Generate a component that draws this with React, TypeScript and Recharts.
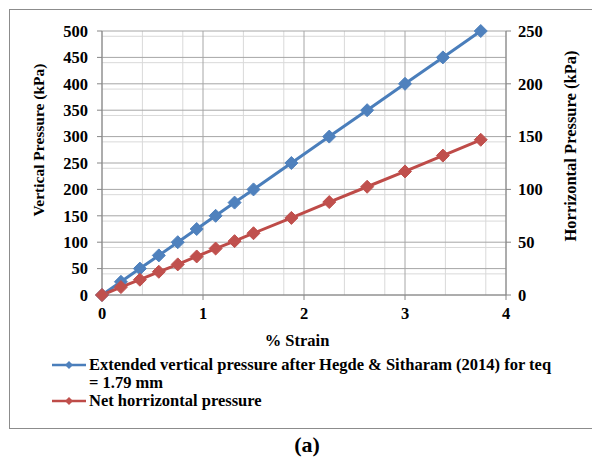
import React from "react";
import { CartesianGrid, Line, LineChart, XAxis, YAxis } from "recharts";

// % strain for each reading
const strain = [0, 0.1875, 0.375, 0.5625, 0.75, 0.9375, 1.125, 1.3125, 1.5, 1.875, 2.25, 2.625, 3, 3.375, 3.75];
// left axis, kPa
const verticalPressure = [0, 25, 50, 75, 100, 125, 150, 175, 200, 250, 300, 350, 400, 450, 500];
// right axis, kPa
const horizontalPressure = [0, 7.5, 14.5, 22, 29, 36.5, 44, 51, 58.5, 73, 88, 102.5, 117, 132, 147];

const xTicks = [0, 1, 2, 3, 4];
const leftTicks = [0, 50, 100, 150, 200, 250, 300, 350, 400, 450, 500];
const rightTicks = [0, 50, 100, 150, 200, 250];
const xMinor = [0.2, 0.4, 0.6, 0.8, 1.2, 1.4, 1.6, 1.8, 2.2, 2.4, 2.6, 2.8, 3.2, 3.4, 3.6, 3.8];
const yMinor = [
  10, 20, 30, 40, 60, 70, 80, 90, 110, 120, 130, 140, 160, 170, 180, 190, 210, 220, 230, 240,
  260, 270, 280, 290, 310, 320, 330, 340, 360, 370, 380, 390, 410, 420, 430, 440, 460, 470, 480, 490,
];

const data = strain.map((s, i) => ({
  strain: s,
  vertical: verticalPressure[i],
  horizontal: horizontalPressure[i],
}));

const FONT = '"Liberation Serif", "Times New Roman", serif';
const BLUE = "#4A7EBB";
const BLUE_MK = "#4F81BD";
const RED = "#BE4B48";
const RED_MK = "#C0504D";
const AXIS = "#868686";

const tickStyle = { fontFamily: FONT, fontSize: 16.5, fontWeight: "bold", fill: "#000" };

function diamond(color: string, r: number) {
  return (props: any) => {
    const { cx, cy, index } = props;
    if (cx == null || cy == null) return <g key={`n-${index}`} />;
    return (
      <path
        key={`d-${index}`}
        d={`M${cx},${cy - r}L${cx + r},${cy}L${cx},${cy + r}L${cx - r},${cy}Z`}
        fill={color}
        stroke={color}
        strokeWidth={1}
      />
    );
  };
}

function LegendMark({ line, mark }: { line: string; mark: string }) {
  return (
    <svg width={35} height={12} style={{ display: "inline-block", verticalAlign: "-1px", marginRight: 2 }}>
      <line x1={0} y1={6} x2={34} y2={6} stroke={line} strokeWidth={2.5} />
      <path d="M17,2L21,6L17,10L13,6Z" fill={mark} />
    </svg>
  );
}

export default function App() {
  const leftTitle = (props: any) => {
    const vb = props.viewBox || { x: 0, y: 31, width: 102, height: 264 };
    const x = vb.x + 38;
    const y = vb.y + vb.height / 2 - 23;
    return (
      <text x={x} y={y} transform={`rotate(-90 ${x} ${y})`} textAnchor="middle" dominantBaseline="central"
        style={{ fontFamily: FONT, fontSize: 15.5, fontWeight: "bold" }} fill="#000">
        Vertical Pressure (kPa)
      </text>
    );
  };
  const rightTitle = (props: any) => {
    const vb = props.viewBox || { x: 506, y: 31, width: 86, height: 264 };
    const x = vb.x + 64;
    const y = vb.y + vb.height / 2 - 17;
    return (
      <text x={x} y={y} transform={`rotate(-90 ${x} ${y})`} textAnchor="middle" dominantBaseline="central"
        style={{ fontFamily: FONT, fontSize: 16.5, fontWeight: "bold" }} fill="#000">
        Horrizontal Pressure (kPa)
      </text>
    );
  };
  const bottomTitle = (props: any) => {
    const vb = props.viewBox || { x: 102, y: 295, width: 404, height: 135 };
    const x = vb.x + vb.width / 2 - 7;
    const y = vb.y + 45;
    return (
      <text x={x} y={y} textAnchor="middle" dominantBaseline="central"
        style={{ fontFamily: FONT, fontSize: 16.5, fontWeight: "bold" }} fill="#000">
        % Strain
      </text>
    );
  };

  return (
    <div style={{ position: "absolute", left: 0, top: 0, width: 592, height: 459, overflow: "hidden", background: "#fff" }}>
      <div
        style={{
          position: "absolute",
          left: 9,
          top: 9,
          width: 620,
          height: 418,
          border: "1.5px solid #8c8c8c",
        }}
      />
      <div style={{ position: "absolute", left: 0, top: 0 }}>
        <LineChart width={592} height={430} data={data} margin={{ top: 31, right: 0, bottom: 0, left: 0 }}>
          <CartesianGrid
            yAxisId="left"
            stroke="#d9d9d9"
            strokeWidth={1}
            horizontalValues={yMinor}
            verticalValues={xMinor}
          />
          <CartesianGrid
            yAxisId="left"
            stroke="#a6a6a6"
            strokeWidth={1}
            horizontalValues={leftTicks}
            verticalValues={xTicks}
          />
          <XAxis
            dataKey="strain"
            type="number"
            domain={[0, 4]}
            ticks={xTicks}
            height={135}
            stroke={AXIS}
            tickSize={5}
            tickMargin={7}
            tick={tickStyle}
            label={bottomTitle}
          />
          <YAxis
            yAxisId="left"
            domain={[0, 500]}
            ticks={leftTicks}
            width={102}
            stroke={AXIS}
            tickSize={5}
            tickMargin={9}
            tick={tickStyle}
            label={leftTitle}
          />
          <YAxis
            yAxisId="right"
            orientation="right"
            domain={[0, 250]}
            ticks={rightTicks}
            width={86}
            stroke={AXIS}
            tickSize={5}
            tickMargin={7}
            tick={{ ...tickStyle, textAnchor: "start" }}
            label={rightTitle}
          />
          <Line
            yAxisId="left"
            dataKey="vertical"
            type="linear"
            stroke={BLUE}
            strokeWidth={3}
            dot={diamond(BLUE_MK, 6.5)}
            isAnimationActive={false}
          />
          <Line
            yAxisId="right"
            dataKey="horizontal"
            type="linear"
            stroke={RED}
            strokeWidth={3}
            dot={diamond(RED_MK, 6.5)}
            isAnimationActive={false}
          />
        </LineChart>
      </div>
      <div
        style={{
          position: "absolute",
          left: 52,
          top: 356,
          fontFamily: FONT,
          fontSize: 16.5,
          fontWeight: "bold",
          lineHeight: "18px",
          color: "#000",
        }}
      >
        <div style={{ whiteSpace: "nowrap" }}>
          <LegendMark line={BLUE} mark={BLUE_MK} />
          Extended vertical pressure after Hegde &amp; Sitharam (2014) for teq
        </div>
        <div style={{ paddingLeft: 37 }}>= 1.79 mm</div>
        <div style={{ whiteSpace: "nowrap" }}>
          <LegendMark line={RED} mark={RED_MK} />
          Net horrizontal pressure
        </div>
      </div>
      <div
        style={{
          position: "absolute",
          left: 0,
          width: 614,
          top: 432,
          textAlign: "center",
          fontFamily: FONT,
          fontSize: 22,
          fontWeight: "bold",
          lineHeight: "26px",
        }}
      >
        (a)
      </div>
    </div>
  );
}
